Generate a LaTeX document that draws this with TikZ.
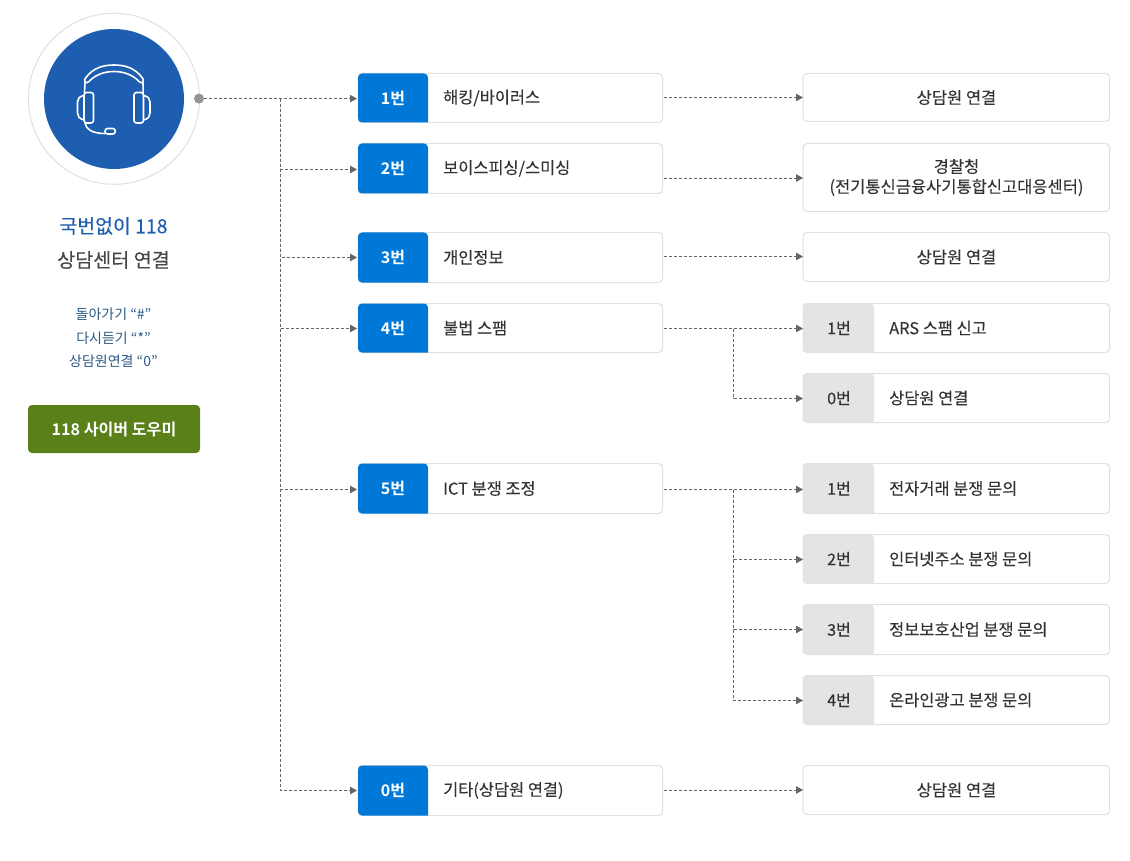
\documentclass[tikz,border=0pt]{standalone}
\usepackage{fontspec}
\setmainfont{Noto Sans CJK KR}[BoldFont={Noto Sans CJK KR Bold}]
\newfontfamily\medf{Noto Sans CJK KR}[FakeBold=0.25]
\newfontfamily\lightmed{Noto Sans CJK KR}[FakeBold=0.1]
\usetikzlibrary{arrows.meta}
\definecolor{tagblue}{HTML}{0078D7}
\definecolor{navy}{HTML}{1D5EB0}
\definecolor{tagbg}{HTML}{E4E4E4}
\definecolor{edge}{HTML}{E0E0E0}
\definecolor{txt}{HTML}{333333}
\definecolor{conn}{HTML}{666666}
\definecolor{slate}{HTML}{2C5A85}
\definecolor{btn}{HTML}{5A8019}
\tikzset{
  x=1pt,y=-1pt,
  rowbox/.style={draw=edge,line width=1pt,fill=white,rounded corners=4pt,inner sep=0pt,outer sep=0pt},
  taglabel/.style={inner sep=0pt,font=\fontsize{16}{16}\selectfont\bfseries,text=white},
  graylabel/.style={inner sep=0pt,font=\fontsize{16}{16}\medf,text=txt},
  boxtext/.style={inner sep=0pt,anchor=west,font=\fontsize{16.4}{17}\lightmed,text=txt},
  centertext/.style={inner sep=0pt,font=\fontsize{16.5}{20}\lightmed,text=txt,align=center},
  connector/.style={draw=conn,line width=0.8pt,dash pattern=on 3pt off 2pt},
  arrowed/.style={connector,-{Triangle[length=7pt,width=7.5pt,fill=conn]}},
  icon/.style={draw=white,line width=1.6pt,line join=round,line cap=round},
  sidenote/.style={inner sep=0pt,font=\fontsize{14}{14}\selectfont,text=slate}
}
% name, top, bottom, tag text, label
\newcommand{\leftrow}[5]{%
  \node[rowbox,minimum width=304.5pt,minimum height={#3-#2},anchor=north west] (#1) at (358,#2) {};
  \fill[tagblue,rounded corners=4pt] (428,#3) -- (358,#3) -- (358,#2) -- (428,#2) [sharp corners] -- cycle;
  \node[taglabel] (#1t) at (393,{(#2+#3)/2}) {#4};
  \node[boxtext] (#1l) at (443,{(#2+#3)/2}) {#5};
}
\newcommand{\rightrow}[5]{%
  \node[rowbox,minimum width=306.5pt,minimum height={#3-#2},anchor=north west] (#1) at (803,#2) {};
  \fill[tagbg,rounded corners=4pt] (874,#3) -- (803,#3) -- (803,#2) -- (874,#2) [sharp corners] -- cycle;
  \node[graylabel] (#1t) at (839,{(#2+#3)/2}) {#4};
  \node[boxtext] (#1l) at (889,{(#2+#3)/2}) {#5};
}
\newcommand{\plainrow}[4]{%
  \node[rowbox,minimum width=306.5pt,minimum height={#3-#2},anchor=north west] (#1) at (803,#2) {};
  \node[centertext] (#1l) at (956.5,{(#2+#3)/2}) {#4};
}
\begin{document}
\begin{tikzpicture}
\useasboundingbox (0,0) rectangle (1130,861);
\fill[white] (0,0) rectangle (1130,861);

% badge
\node[circle,draw=edge,line width=1pt,minimum size=171pt,inner sep=0pt] (ring) at (114,98.8) {};
\node[circle,fill=navy,minimum size=140pt,inner sep=0pt] (disc) at (114,99) {};
% headset
\draw[icon] (85,82) .. controls (84,80) and (85,78.5) .. (86,77.5)
  .. controls (93,68) and (103,65) .. (114,65)
  .. controls (125,65) and (135,68) .. (142,77.5)
  .. controls (143,78.5) and (144,80) .. (143,82)
  .. controls (142,83) and (140,83) .. (139,81.5)
  .. controls (133,75) and (124,71.5) .. (114,71.5)
  .. controls (104,71.5) and (95,75) .. (89,81.5)
  .. controls (88,83) and (86,83) .. (85,82) -- cycle;
\draw[icon] (85,83) -- (84.5,92.5);
\draw[icon] (143,83) -- (143.2,93.5);
\draw[icon,rounded corners=2.5pt] (84,92.5) rectangle (93.5,123);
\draw[icon,rounded corners=2.5pt] (134,92.5) rectangle (143.5,123);
\draw[icon] (84,95.5) .. controls (79,96.5) and (77.5,99) .. (77.5,102)
  -- (77.5,113) .. controls (77.5,116) and (79,119) .. (84.5,120);
\draw[icon] (143.5,95.5) .. controls (148.5,96.5) and (150,99) .. (150,102)
  -- (150,113) .. controls (150,116) and (148.5,119) .. (143.5,120);
\draw[icon] (85,123) .. controls (86,129) and (92,133.5) .. (105,133.5);
\draw[icon,rounded corners=2.5pt] (105,128.5) rectangle (115.3,134);

% left texts
\node[inner sep=0pt,font=\fontsize{19.4}{20}\lightmed,text=navy] (title1) at (113.5,226) {국번없이 118};
\node[inner sep=0pt,font=\fontsize{19.6}{20}\lightmed,text=black!72] (title2) at (113.5,260) {상담센터 연결};
\node[sidenote] (note1) at (113.5,314.5) {돌아가기 “\#”};
\node[sidenote] (note2) at (113.5,338) {다시듣기 “*”};
\node[sidenote] (note3) at (113.5,361.5) {상담원연결 “0”};
\node[fill=btn,rounded corners=4pt,minimum width=172pt,minimum height=48pt,inner sep=0pt,text=white,font=\fontsize{16.1}{17}\selectfont\bfseries] (help) at (114,429) {118 사이버 도우미};

% rows
\leftrow{a}{73.5}{122.5}{1번}{해킹/바이러스}
\leftrow{b}{143.5}{193.5}{2번}{보이스피싱/스미싱}
\leftrow{c}{232.5}{282.5}{3번}{개인정보}
\leftrow{d}{303.5}{352.5}{4번}{불법 스팸}
\leftrow{e}{463.5}{513.5}{5번}{ICT 분쟁 조정}
\leftrow{f}{765.5}{815.5}{0번}{기타(상담원 연결)}

\plainrow{ra}{73.5}{121.5}{상담원 연결}
\plainrow{rb}{143.5}{211.5}{경찰청\\(전기통신금융사기통합신고대응센터)}
\plainrow{rc}{232.5}{281.5}{상담원 연결}
\rightrow{rd}{303.5}{352.5}{1번}{ARS 스팸 신고}
\rightrow{rdd}{373.5}{422.5}{0번}{상담원 연결}
\rightrow{re}{463.5}{513.5}{1번}{전자거래 분쟁 문의}
\rightrow{ree}{534.5}{583.5}{2번}{인터넷주소 분쟁 문의}
\rightrow{reee}{604.5}{654.5}{3번}{정보보호산업 분쟁 문의}
\rightrow{reeee}{675.5}{724.5}{4번}{온라인광고 분쟁 문의}
\plainrow{rf}{765.5}{814.5}{상담원 연결}

% connectors
\node[circle,fill=black!42,minimum size=10pt,inner sep=0pt] (dot) at (199,98.6) {};
\coordinate (trunk) at (280.5,98.6);
\coordinate (ia) at (357,98.6);
\coordinate (ib) at (357,169.5);
\coordinate (ic) at (357,257.5);
\coordinate (id) at (357,328.5);
\coordinate (ie) at (357,489.5);
\coordinate (if) at (357,790.5);
\draw[arrowed] (dot) -- (ia);
\foreach \t in {ib,ic,id,ie,if} \draw[arrowed] (trunk) |- (\t);

\draw[arrowed] (664,97.5) coordinate (oa) -- (803,97.5) coordinate (ta);
\draw[arrowed] (664,178) coordinate (ob) -- (803,178) coordinate (tb);
\draw[arrowed] (664,256.5) coordinate (oc) -- (803,256.5) coordinate (tc);
\draw[arrowed] (664,328.5) coordinate (od) -- (803,328.5) coordinate (td);
\coordinate (bd) at (733.5,328.5);
\draw[arrowed] (bd) |- (803,398.5);
\draw[arrowed] (664,489.5) coordinate (oe) -- (803,489.5) coordinate (te);
\coordinate (be) at (733.5,489.5);
\draw[arrowed] (be) |- (803,559.5);
\draw[arrowed] (be) |- (803,629.5);
\draw[arrowed] (be) |- (803,700.5);
\draw[arrowed] (664,790) coordinate (of) -- (803,790) coordinate (tf);
\end{tikzpicture}
\end{document}
